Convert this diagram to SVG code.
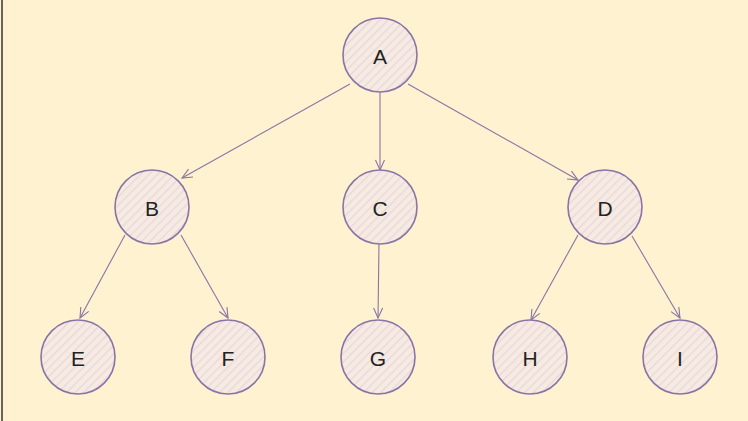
<svg xmlns="http://www.w3.org/2000/svg" width="748" height="421" viewBox="0 0 748 421">
<style>
.node circle{fill:url(#hatch);stroke:#8a74a6;stroke-width:1.6}
.node text{font-family:"Liberation Sans",Arial,sans-serif;font-size:21px;fill:#222;text-anchor:middle;dominant-baseline:central}
.edges line{stroke:#8a74a6;stroke-width:1.1;fill:none}
</style>
<defs>
<pattern id="hatch" patternUnits="userSpaceOnUse" width="6" height="6" patternTransform="rotate(45)">
<rect width="6" height="6" fill="#f7ebdf"/>
<line x1="0" y1="0" x2="0" y2="6" stroke="#e4d6e6" stroke-width="2.5"/>
</pattern>
<marker id="arr" viewBox="0 0 12 12" refX="11" refY="6" markerWidth="12" markerHeight="12" markerUnits="userSpaceOnUse" orient="auto">
<path d="M1,1.5 L11,6 L1,10.5" fill="none" stroke="#8a74a6" stroke-width="1.1"/>
</marker>
</defs>
<rect width="748" height="421" fill="#fef2d0"/>
<line x1="2" y1="0" x2="2" y2="421" stroke="#333" stroke-width="1.5"/>
<g class="edges">
<line x1="350" y1="84" x2="182" y2="178" marker-end="url(#arr)"/>
<line x1="380" y1="92" x2="380" y2="170" marker-end="url(#arr)"/>
<line x1="408" y1="84" x2="578" y2="180" marker-end="url(#arr)"/>
<line x1="125" y1="235" x2="80" y2="318" marker-end="url(#arr)"/>
<line x1="181" y1="235" x2="228" y2="318" marker-end="url(#arr)"/>
<line x1="379" y1="244" x2="378" y2="318" marker-end="url(#arr)"/>
<line x1="578" y1="235" x2="531" y2="320" marker-end="url(#arr)"/>
<line x1="632" y1="236" x2="680" y2="318" marker-end="url(#arr)"/>
</g>
<g id="node-A" class="node"><circle cx="380" cy="55" r="37"/><text x="380" y="56">A</text></g>
<g id="node-B" class="node"><circle cx="152" cy="207" r="37"/><text x="152" y="208">B</text></g>
<g id="node-C" class="node"><circle cx="380" cy="207" r="37"/><text x="380" y="208">C</text></g>
<g id="node-D" class="node"><circle cx="605" cy="207" r="37"/><text x="605" y="208">D</text></g>
<g id="node-E" class="node"><circle cx="78" cy="357" r="37"/><text x="78" y="358">E</text></g>
<g id="node-F" class="node"><circle cx="228" cy="357" r="37"/><text x="228" y="358">F</text></g>
<g id="node-G" class="node"><circle cx="378" cy="357" r="37"/><text x="378" y="358">G</text></g>
<g id="node-H" class="node"><circle cx="530" cy="357" r="37"/><text x="530" y="358">H</text></g>
<g id="node-I" class="node"><circle cx="680" cy="357" r="37"/><text x="680" y="358">I</text></g>
</svg>
